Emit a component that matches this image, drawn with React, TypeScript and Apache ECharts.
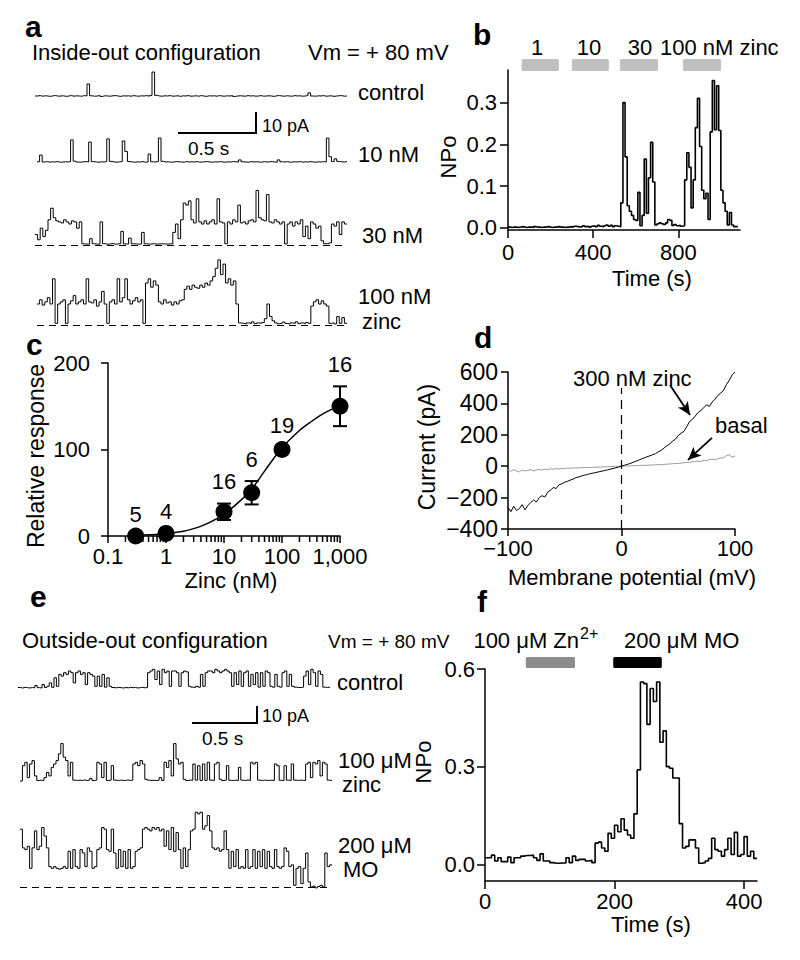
import React, { useEffect, useRef } from "react";
import * as echarts from "echarts";

const FONT = '"Liberation Sans", Arial, Helvetica, sans-serif';

// ---------------- Panel a: inside-out traces (pA, one sample per step) ----------------
const aControl = [0,0.2,-0.1,0.1,0,-0.2,0.1,0.2,-0.1,0,
  0.1,-0.2,0,0.2,-0.1,0.1,0,-0.1,0.2,0,
  5.7,0.1,-0.1,0,0.2,-0.2,0.1,0,-0.1,0.1,
  0.2,0,-0.2,0.1,0,0.1,-0.1,0.2,0,-0.1,
  0.1,0,0.2,-0.1,0.3,11.4,0.3,0,-0.1,0.1,
  0,0.2,-0.1,0,0.1,-0.2,0.1,0,0.2,-0.1,
  0,0.1,-0.1,0.2,0,-0.2,0.1,0,0.1,-0.1,
  0.2,0,-0.1,0.1,0,0.2,-0.2,0,0.1,0,
  -0.1,0.2,0,0.1,-0.1,0,0.2,-0.1,0,0.1,
  0,-0.2,0.1,0.2,0,-0.1,0.1,0,-0.1,0.2,
  0,0.1,-0.1,0,0.2,1.5,0,-0.1,0.1,0,
  0.2,-0.1,0,0.1,-0.2,0,0.1,0.2,-0.1,0];
const a10nM = [0.1,3.3,0,0.2,-0.1,0.1,0,0.2,-0.1,0,
  0.1,0,0.2,10.5,0.4,0,-0.1,0.1,0.2,0,
  9.5,0.2,0,-0.1,0.1,0,0.2,11,0.3,0,
  -0.1,0.1,0.2,10,5,0.2,0,-0.1,0.1,0,
  0.2,-0.1,0,3.8,0.1,0,0.2,11.4,0.3,0,
  0.1,-0.1,0,0.2,0.1,0,-0.1,0.2,0,0.1,
  0,0.2,-0.1,0,0.1,0.2,0,-0.1,0.1,0,
  0.2,0,-0.1,0.1,0,0.2,0.1,0,1,0.1,
  0,-0.1,0.2,0,0.1,0,-0.1,0.2,0,0.1,
  0.2,0,-0.1,1,0.1,0,0.2,-0.1,0,0.1,
  0,0.2,-0.1,0.1,0,0.2,0,-0.1,0.1,0,
  0.2,0,11.4,2.5,0.2,1.5,0.3,0.1,0,0.2];
const a30nM = [5,2.5,8,4,7,12,17.5,13,11.5,11,
  10.5,12,11,10,11.5,11,8,11,0.6,0.4,
  0.5,3,0.6,0.4,0.5,11,0.6,0.4,0.5,0.7,
  0.4,0.5,0.6,6.5,0.5,0.4,3.3,0.6,0.5,0.4,
  0.5,6,0.6,0.4,0.5,0.6,0.4,0.5,0.6,0.5,
  0.4,0.6,0.5,6,10,3,12,20,19,21,
  12,10.5,22,11,10,11.5,10,11,12,10,
  22,11,10.5,0.6,11,10,12,11,19,10.5,
  11,10,11.5,12,11,26,13,12,11.5,24,
  11,10.5,12,11,10,11,0.5,10,11,9,
  11,10,12,4,9,3,11,10,8,9,
  2,0.6,0.6,1,10,9,11,5,11,10];
const a100nM = [10,12,9.5,11,13,10,22,0.8,10,11,
  12,0.8,10,11.5,14,10,11,12,10,22,
  11,10.5,12,9,11,16,10,0.8,11,12,
  10,22,11,13,22,12,10,11.5,13,11,
  12,0.8,20,22,18,21,19,11,10,12,
  10.5,11,9.5,11,10,11.5,12,17,18.5,17,
  19,18,17.5,19,18,20,19,21,23,27,
  31,24,29,20,22,19,21,10,1,0.8,
  0.5,1,0.7,1.5,0.6,1,0.8,1.2,3,10,
  4,2,1,0.6,0.9,1.4,0.7,0.5,1,0.8,
  1.5,0.6,1,0.7,1.2,0.8,9,11,12,10,
  11.5,10,9,0.8,1,0.5,4,0.8,3.5,0.8];
const aLabels = ["control", "10 nM", "30 nM", "100 nM", "zinc"];

// ---------------- Panel b: NPo vs time (10 s bins) ----------------
const bBinWidth = 10;
const bNPo = [0.002,0.001,0.002,0.002,0.001,0.002,0.003,0.002,0.001,0.002,
  0.002,0.001,0.003,0.002,0.002,0.001,0.002,0.002,0.003,0.002,
  0.001,0.002,0.002,0.003,0.002,0.002,0.001,0.002,0.002,0.003,
  0.002,0.004,0.003,0.002,0.003,0.005,0.003,0.004,0.002,0.004,
  0.005,0.003,0.006,0.004,0.003,0.005,0.007,0.004,0.006,0.003,
  0.005,0.004,0.003,
  0.06,0.30,0.17,0.053,0.04,0.03,0.02,0.018,0.085,0.005,0.03,0.165,0.035,0.12,0.205,0.11,0.007,
  0.01,0.012,0.01,0.008,0.012,0.02,0.018,0.006,0.008,0.005,0.006,0.004,0.005,
  0.115,0.18,0.145,0.048,0.115,0.24,0.31,0.195,0.09,0.07,0.083,0.02,0.23,0.353,0.235,0.34,0.233,0.09,0.06,0.04,0.007,0.037,0.007,0.003,0.003];
const bBarStart = [64, 300, 526, 822];
const bBarEnd = [239, 474, 705, 1001];
const bBarLabels = ["1", "10", "30", "100 nM zinc"];
const bXTicks = [0, 400, 800];
const bYTicks = [0, 0.1, 0.2, 0.3];

// ---------------- Panel c: dose response ----------------
const cConc = [0.3, 1, 10, 30, 100, 1000];
const cMean = [0, 3, 28, 50, 100, 150];
const cErr = [0, 0, 9.5, 13.5, 2, 23];
const cN = ["5", "4", "16", "6", "19", "16"];
const cFitConc = [0.3, 0.5, 1, 2, 3, 5, 10, 20, 30, 50, 100, 200, 300, 500, 1000];
const cFitVal = [0.8, 1.4, 2.7, 5.5, 8.5, 14, 25, 42, 54, 75, 102, 122, 131, 141, 151];
const cXTicks = [0.1, 1, 10, 100, 1000];
const cXTickLabels = ["0.1", "1", "10", "100", "1,000"];
const cMinorTicks = [0.2,0.3,0.4,0.5,0.6,0.7,0.8,0.9,2,3,4,5,6,7,8,9,20,30,40,50,60,70,80,90,200,300,400,500,600,700,800,900];

// ---------------- Panel d: I-V (2.5 mV steps from -100 mV) ----------------
const dVmStart = -100;
const dVmStep = 2.5;
const dZinc = [-262,-290,-255,-282,-270,-245,-278,-250,-232,-215,-228,-200,-188,-196,-165,-152,-136,-142,-118,-112,
  -102,-96,-88,-82,-72,-68,-62,-57,-53,-47,-44,-40,-36,-32,-28,-24,-19,-15,-10,-5,
  0,6,11,17,24,31,38,46,53,60,66,73,80,92,101,116,130,141,160,172,
  195,210,222,252,285,298,320,342,355,372,392,380,410,428,452,466,485,520,548,582,600];
const dBasal = [-25,-32,-22,-30,-36,-25,-30,-27,-22,-30,-24,-20,-25,-18,-22,-17,-20,-15,-18,-14,
  -15,-12,-14,-11,-12,-10,-10,-9,-8,-8,-7,-6,-6,-5,-4,-3,-3,-2,-1,-1,
  0,1,1,2,3,3,4,5,5,6,7,8,9,10,10,12,13,14,16,17,
  18,20,22,24,25,28,30,32,30,38,35,42,45,40,48,52,55,68,72,58,65];
const dArrowZinc = [[42.7, 517], [60.4, 326]];
const dArrowBasal = [[79.7, 180], [58.6, 40]];

// ---------------- Panel e: outside-out traces ----------------
const eControl = [0.3,0,0.4,0.2,0,0.3,0.1,1.5,0.2,0,
  2,0.3,1,3,0.4,6,1,8,7,9,
  8,10,9,3,9,10,8,9,2,9,
  8,7,1,7,1,8,0.5,6,1,0.3,
  0.1,0.4,0.2,0,0.3,0.1,0.4,0.2,0.3,0,
  0.2,0.4,0.1,0.3,9,10,11,5,10,2,
  11,9,10,1,10,10,9,1,9,10,
  9.5,1,0.5,0.3,1,0.5,8,1,9,10,
  10,9,11,10,9,10,11,10,9,1,
  9,2,10,1,9,10,1,8,2,9,
  0.5,9,1,10,9,1,0.5,8,1,0.5,
  9,10,1,8,1,0.5,0.3,0.3,0.5,7,
  10,2,11,9,1,10,8,0.5,0.3,0.5];
const eZinc = [0,9,11,2,10,12,3,0.3,0.5,0.3,
  2,5,3,8,10,12,16,22,14,12,
  3,11,0.5,0.3,0.5,0.3,0.6,0.3,0.5,1.5,
  0.3,0.5,11,10,2,11,0.3,0.5,9,0.5,
  0.3,0.5,0.4,0.3,0.6,0.3,0.5,10,11,9,
  12,10,1,0.5,0.3,0.4,0.3,0.5,2,0.3,
  11,8,12,3,22,13,10,11,1,0.3,
  0.5,0.4,10,0.5,9,0.3,10,0.4,11,0.5,
  0.3,10,11,1,0.3,0.5,9,0.4,0.3,0.5,
  0.3,8,0.5,0.3,0.6,0.3,11,10,11,0.5,
  0.3,0.5,0.4,0.3,0.5,0.3,10,9,0.4,0.3,
  9,0.5,0.3,10,0.5,0.3,0.5,0.4,0.3,10,
  11,2,11,10,12,3,11,10,0.5,0.3];
const eMO = [34,23,22,24,11,23,33,22,24,35,
  30,23,12,11,12,11,10.5,11,12,11,
  21,11,22,12,11,22,20,12,23,21,
  11,12,22,23,35,34,22,21,34,20,
  11,22,12,21,11,22,11,12,21,22,
  23,34,35,34,33,35,34,35,33,34,
  24,33,22,35,21,32,22,11,23,12,
  22,33,34,44,43,44,34,36,42,33,
  23,22,23,21,22,33,22,11,21,12,
  22,11,12,11,22,11,12,22,11,21,
  12,22,11,21,12,11,22,12,11,12,
  23,21,12,13,1,11,12,2,11,20,
  3,0,0.5,-0.5,0.3,1,0,20,12,13];

// ---------------- Panel f: NPo vs time (5 s bins) ----------------
const fBinWidth = 5;
const fNPo = [0.02,0.02,0.028,0.01,0.02,0.008,0.008,0.022,0.005,0.02,
  0.02,0.025,0.027,0.027,0.028,0.02,0.012,0.032,0.01,0.01,
  0.005,0.003,0.003,0.004,0.004,0.02,0.005,0.025,0.012,0.015,
  0.015,0.01,0.012,0.005,
  0.065,0.068,0.05,0.04,0.095,0.08,0.12,0.1,0.14,0.105,
  0.09,0.08,0.155,0.29,0.56,0.555,0.43,0.54,0.5,0.56,
  0.375,0.41,0.3,0.295,0.265,0.265,0.125,0.05,0.055,0.075,
  0.075,0.05,0.003,0.005,0.01,0.018,0.08,0.045,0.04,0.025,
  0.045,0.08,0.03,0.098,0.025,0.03,0.085,0.025,0.04,0.018];
const fBarStart = [63, 198];
const fBarEnd = [139, 273];
const fBarColors = ["#8c8c8c", "#000000"];
const fXTicks = [0, 200, 400];
const fYTicks = [0, 0.3, 0.6];

// ---------------------------------------------------------------------------
function stepData(vals: number[], x0: number, dx: number) {
  const d = vals.map((v, i) => [x0 + i * dx, v]);
  d.push([x0 + vals.length * dx, vals[vals.length - 1]]);
  return d;
}

function buildOption() {
  const grid: any[] = [];
  const xAxis: any[] = [];
  const yAxis: any[] = [];
  const series: any[] = [];
  const lineBlack = { color: "#000", width: 1.5 };

  const addGrid = (g: any) => {
    grid.push({ ...g, containLabel: false, outerBoundsMode: "none" });
    return grid.length - 1;
  };
  const hiddenAxis = (gi: number, min: number, max: number) => ({
    type: "value", gridIndex: gi, min, max, show: false,
  });
  const visAxis = (gi: number, min: number, max: number, ticks: number[], fmt: (v: number) => string, margin: number, tickLen: number, fontSize = 22) => ({
    type: "value", gridIndex: gi, min, max,
    axisLine: { show: true, onZero: false, lineStyle: lineBlack },
    axisTick: { show: true, length: tickLen, inside: false, lineStyle: lineBlack, customValues: ticks },
    axisLabel: { show: true, customValues: ticks, formatter: fmt, margin, fontSize, color: "#000", fontFamily: FONT },
    splitLine: { show: false },
    minorTick: { show: false },
  });

  // ---- traces (panels a and e) ----
  const traceDefs = [
    { vals: aControl, left: 35, right: 347, base: 96, k: 2.1, ymin: -2, ymax: 13, dashed: false },
    { vals: a10nM, left: 37, right: 347, base: 162, k: 2.1, ymin: -2, ymax: 13, dashed: false },
    { vals: a30nM, left: 35, right: 347, base: 245, k: 2.1, ymin: -2, ymax: 28, dashed: true },
    { vals: a100nM, left: 37, right: 347, base: 325, k: 2.1, ymin: -2, ymax: 33, dashed: true },
    { vals: eControl, left: 18, right: 330, base: 688, k: 1.7, ymin: -2, ymax: 14, dashed: false },
    { vals: eZinc, left: 20, right: 332, base: 781, k: 1.7, ymin: -2, ymax: 25, dashed: false },
    { vals: eMO, left: 20, right: 332, base: 887, k: 1.7, ymin: -3, ymax: 47, dashed: true },
  ];
  traceDefs.forEach((t) => {
    const gi = addGrid({ left: t.left, top: t.base - t.ymax * t.k, width: t.right - t.left, height: (t.ymax - t.ymin) * t.k });
    xAxis.push(hiddenAxis(gi, 0, t.vals.length));
    yAxis.push(hiddenAxis(gi, t.ymin, t.ymax));
    series.push({
      type: "line", xAxisIndex: xAxis.length - 1, yAxisIndex: yAxis.length - 1,
      step: "end", symbol: "none", showSymbol: false, silent: true, clip: false,
      data: stepData(t.vals, 0, 1),
      lineStyle: { color: "#000", width: 1 },
      markLine: t.dashed
        ? { silent: true, symbol: ["none", "none"], label: { show: false }, lineStyle: { color: "#000", width: 1, type: [7, 5] }, data: [{ yAxis: 0 }] }
        : undefined,
    });
  });

  // ---- panel b ----
  const giB = addGrid({ left: 508, top: 70, width: 232, height: 160 });
  xAxis.push(visAxis(giB, 0, 1090, bXTicks, (v) => String(v), 11, 8));
  yAxis.push(visAxis(giB, -0.005, 0.378, bYTicks, (v) => v.toFixed(1), 11, 8));
  series.push({
    type: "line", xAxisIndex: xAxis.length - 1, yAxisIndex: yAxis.length - 1,
    step: "end", symbol: "none", showSymbol: false, silent: true,
    data: stepData(bNPo, 0, bBinWidth), lineStyle: { color: "#000", width: 1.6 },
  });
  const giBb = addGrid({ left: 508, top: 59, width: 232, height: 12 });
  xAxis.push(hiddenAxis(giBb, 0, 1090));
  yAxis.push(hiddenAxis(giBb, 0, 1));
  const barRender = (colorOf: (i: number) => string) => (params: any, api: any) => {
    const p0 = api.coord([api.value(0), 1]);
    const p1 = api.coord([api.value(1), 0]);
    return { type: "rect", shape: { x: p0[0], y: p0[1], width: p1[0] - p0[0], height: p1[1] - p0[1], r: 1.5 }, style: { fill: colorOf(params.dataIndex) } };
  };
  series.push({
    type: "custom", xAxisIndex: xAxis.length - 1, yAxisIndex: yAxis.length - 1, silent: true,
    renderItem: barRender(() => "#c0c0c0"), encode: { x: [0, 1] },
    data: bBarStart.map((s, i) => [s, bBarEnd[i]]),
  });

  // ---- panel c (log10 concentration on a linear axis) ----
  const giC = addGrid({ left: 108, top: 363, width: 232, height: 173 });
  const cMajor = cXTicks.map((v) => Math.log10(v));
  xAxis.push(visAxis(giC, -1, 3, cMajor, (v) => {
    const idx = cMajor.findIndex((m) => Math.abs(m - v) < 1e-6);
    return idx >= 0 ? cXTickLabels[idx] : "";
  }, 9, 7));
  const cxMain = xAxis.length - 1;
  yAxis.push(visAxis(giC, 0, 200, [0, 100, 200], (v) => String(v), 18, 7));
  const cy = yAxis.length - 1;
  // minor (2..9 per decade) ticks below the axis line, as thin rect symbols
  series.push({
    type: "scatter", xAxisIndex: cxMain, yAxisIndex: cy, silent: true, clip: false, z: 6,
    symbol: "rect", symbolSize: [1.5, 6], symbolOffset: [0, 3],
    itemStyle: { color: "#000", opacity: 1 },
    data: cMinorTicks.map((v) => [Math.log10(v), 0]),
  });
  series.push({
    type: "line", xAxisIndex: cxMain, yAxisIndex: cy, smooth: 0.3, symbol: "none", showSymbol: false, silent: true,
    data: cFitConc.map((c, i) => [Math.log10(c), cFitVal[i]]), lineStyle: { color: "#000", width: 1.5 }, z: 2,
  });
  series.push({
    type: "custom", xAxisIndex: cxMain, yAxisIndex: cy, silent: true, z: 3,
    encode: { x: 0, y: 1 },
    data: cConc.map((c, i) => [Math.log10(c), cMean[i], cErr[i]]),
    renderItem: (params: any, api: any) => {
      const x = api.value(0), m = api.value(1), e = api.value(2);
      const top = api.coord([x, m + e]);
      const bot = api.coord([x, m - e]);
      const w = 7;
      const st = { stroke: "#000", lineWidth: 2 };
      return {
        type: "group", children: [
          { type: "line", shape: { x1: top[0], y1: top[1], x2: bot[0], y2: bot[1] }, style: st },
          { type: "line", shape: { x1: top[0] - w, y1: top[1], x2: top[0] + w, y2: top[1] }, style: st },
          { type: "line", shape: { x1: bot[0] - w, y1: bot[1], x2: bot[0] + w, y2: bot[1] }, style: st },
        ],
      };
    },
  });
  series.push({
    type: "scatter", xAxisIndex: cxMain, yAxisIndex: cy, symbol: "circle", symbolSize: 17, silent: true, z: 4,
    itemStyle: { color: "#000", opacity: 1 },
    data: cConc.map((c, i) => [Math.log10(c), cMean[i]]),
  });
  series.push({
    type: "scatter", xAxisIndex: cxMain, yAxisIndex: cy, symbolSize: 0, silent: true, z: 5,
    itemStyle: { color: "#000", opacity: 1 },
    data: cConc.map((c, i) => [Math.log10(c), cMean[i] + cErr[i]]),
    label: { show: true, position: "top", distance: 11, formatter: (p: any) => cN[p.dataIndex], fontSize: 22, color: "#000", opacity: 1, fontFamily: FONT },
  });

  // ---- panel d ----
  const giD = addGrid({ left: 508, top: 372, width: 227, height: 157 });
  const minus = (v: number) => String(v).replace("-", "\u2212");
  xAxis.push(visAxis(giD, -100, 100, [-100, 0, 100], minus, 8, 7));
  yAxis.push(visAxis(giD, -400, 600, [-400, -200, 0, 200, 400, 600], minus, 10, 7, 23));
  const dxI = xAxis.length - 1, dyI = yAxis.length - 1;
  const dashed = { color: "#000", width: 1.2, type: [9, 6] };
  const arrowLine = { color: "#000", width: 1.8, type: "solid" };
  series.push({
    type: "line", xAxisIndex: dxI, yAxisIndex: dyI, symbol: "none", showSymbol: false, silent: true, clip: false,
    data: dBasal.map((v, i) => [dVmStart + i * dVmStep, v]), lineStyle: { color: "#9a9a9a", width: 1 },
  });
  series.push({
    type: "line", xAxisIndex: dxI, yAxisIndex: dyI, symbol: "none", showSymbol: false, silent: true, clip: false,
    data: dZinc.map((v, i) => [dVmStart + i * dVmStep, v]), lineStyle: { color: "#000", width: 1 },
    markLine: {
      silent: true, symbol: ["none", "none"], label: { show: false },
      data: [
        [{ coord: [-100, 0], lineStyle: dashed }, { coord: [104, 0] }],
        [{ coord: [0, -400], lineStyle: dashed }, { coord: [0, 498] }],
        [{ coord: dArrowZinc[0], symbol: "none", lineStyle: arrowLine }, { coord: dArrowZinc[1], symbol: "arrow", symbolSize: [9, 13] }],
        [{ coord: dArrowBasal[0], symbol: "none", lineStyle: arrowLine }, { coord: dArrowBasal[1], symbol: "arrow", symbolSize: [9, 13] }],
      ],
    },
  });

  // ---- panel f ----
  const giF = addGrid({ left: 485, top: 669, width: 272, height: 212 });
  xAxis.push(visAxis(giF, 0, 420, fXTicks, (v) => String(v), 9, 8));
  yAxis.push(visAxis(giF, -0.0514, 0.6, fYTicks, (v) => v.toFixed(1), 10, 8));
  series.push({
    type: "line", xAxisIndex: xAxis.length - 1, yAxisIndex: yAxis.length - 1,
    step: "end", symbol: "none", showSymbol: false, silent: true,
    data: stepData(fNPo, 0, fBinWidth), lineStyle: { color: "#000", width: 1.6 },
  });
  const giFb = addGrid({ left: 485, top: 657, width: 272, height: 11 });
  xAxis.push(hiddenAxis(giFb, 0, 420));
  yAxis.push(hiddenAxis(giFb, 0, 1));
  series.push({
    type: "custom", xAxisIndex: xAxis.length - 1, yAxisIndex: yAxis.length - 1, silent: true,
    renderItem: barRender((i) => fBarColors[i]), encode: { x: [0, 1] },
    data: fBarStart.map((s, i) => [s, fBarEnd[i]]),
  });

  // ---- texts ----
  const T = (text: string, x: number, y: number, size: number, o: any = {}) => ({
    type: "text", x, y, rotation: o.rot || 0, silent: true, z: 100,
    style: {
      text, fill: "#000", fontSize: size, fontFamily: FONT, fontWeight: o.bold ? "bold" : "normal",
      align: o.align || "left", verticalAlign: "middle",
      textAlign: o.align || "left", textVerticalAlign: "middle",
    },
  });
  const R = Math.PI / 2;
  const elements: any[] = [
    // panel a
    T("a", 25, 26, 30, { bold: true }),
    T("Inside-out configuration", 32, 52, 22),
    T("Vm = + 80 mV", 308, 52, 22),
    T(aLabels[0], 358, 92, 22),
    T(aLabels[1], 358, 154, 22),
    T(aLabels[2], 362, 235, 22),
    T(aLabels[3], 358, 296, 22),
    T(aLabels[4], 362, 321, 22),
    T("10 pA", 262, 126, 18),
    T("0.5 s", 188, 148, 19),
    { type: "polyline", silent: true, shape: { points: [[178, 133], [256, 133], [256, 112]] }, style: { stroke: "#000", lineWidth: 2, fill: null } },
    // panel b
    T("b", 473, 34, 30, { bold: true }),
    T(bBarLabels[0], 537, 47, 22, { align: "center" }),
    T(bBarLabels[1], 589, 47, 22, { align: "center" }),
    T(bBarLabels[2], 640, 47, 22, { align: "center" }),
    T(bBarLabels[3], 660, 47, 22),
    T("NPo", 448, 157, 22, { align: "center", rot: R }),
    T("Time (s)", 652, 278, 22, { align: "center" }),
    // panel c
    T("c", 26, 344, 30, { bold: true }),
    T("Relative response", 36, 456, 23, { align: "center", rot: R }),
    T("Zinc (nM)", 231, 580, 22, { align: "center" }),
    // panel d
    T("d", 474, 337, 30, { bold: true }),
    T("Current (pA)", 427, 447, 23, { align: "center", rot: R }),
    T("Membrane potential (mV)", 632, 577, 22, { align: "center" }),
    T("300 nM zinc", 573, 378, 22),
    T("basal", 715, 425, 22),
    // panel e
    T("e", 30, 596, 30, { bold: true }),
    T("Outside-out configuration", 22, 640, 22),
    T("Vm = + 80 mV", 328, 641, 19),
    T("control", 337, 682, 22),
    T("10 pA", 262, 716, 18),
    T("0.5 s", 202, 738, 19),
    T("100 \u03bcM", 338, 760, 22),
    T("zinc", 342, 784, 22),
    T("200 \u03bcM", 338, 845, 22),
    T("MO", 343, 869, 22),
    { type: "polyline", silent: true, shape: { points: [[192, 723], [257, 723], [257, 706]] }, style: { stroke: "#000", lineWidth: 2, fill: null } },
    // panel f
    T("f", 477, 601, 30, { bold: true }),
    T("100 \u03bcM Zn", 579, 640, 22, { align: "right" }),
    T("2+", 580, 633, 16),
    T("200 \u03bcM MO", 624, 640, 22),
    T("NPo", 423, 762, 22, { align: "center", rot: R }),
    T("Time (s)", 651, 924, 22, { align: "center" }),
  ];

  return {
    animation: false,
    backgroundColor: "#ffffff",
    textStyle: { fontFamily: FONT, color: "#000" },
    grid, xAxis, yAxis, series,
    graphic: { elements },
  };
}

export default function App() {
  const ref = useRef<HTMLDivElement>(null);
  useEffect(() => {
    if (!ref.current) return;
    const chart = echarts.init(ref.current, null, { renderer: "svg", width: 800, height: 960 });
    chart.setOption(buildOption() as any);
    return () => chart.dispose();
  }, []);
  return (
    <div
      ref={ref}
      style={{ position: "absolute", left: 0, top: 0, width: 800, height: 960, background: "#fff" }}
    />
  );
}
